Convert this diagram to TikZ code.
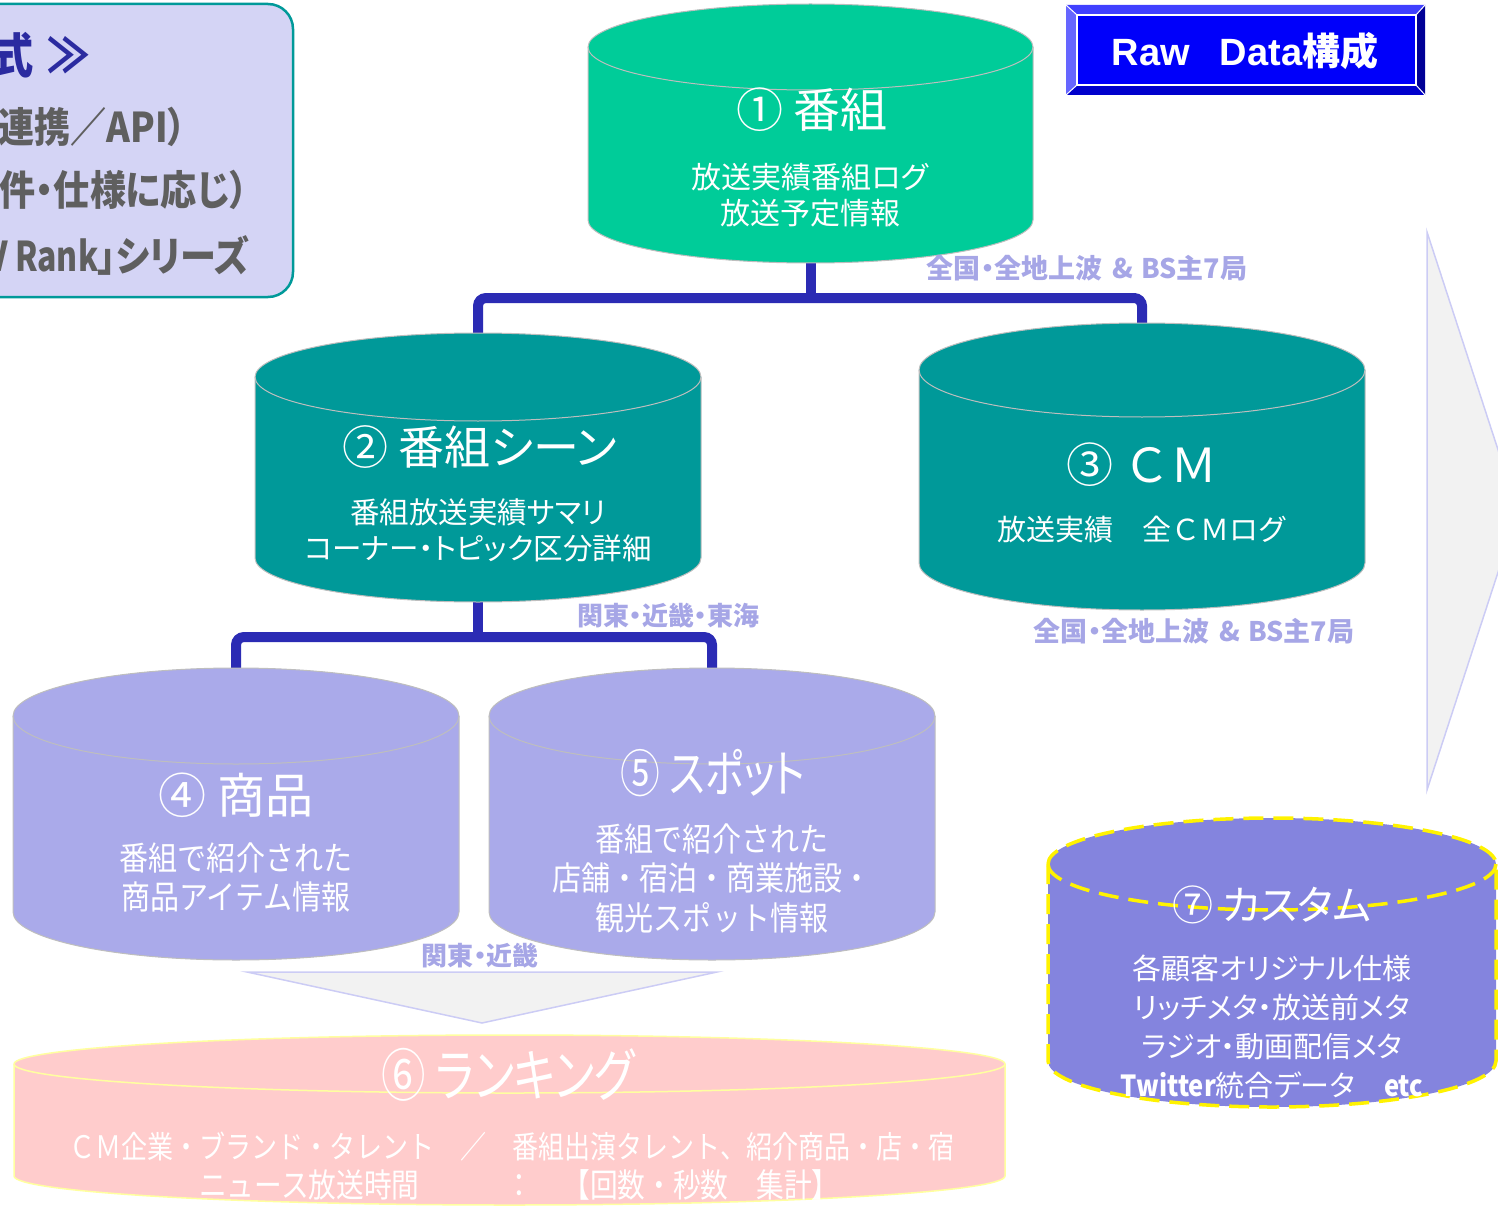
\documentclass[tikz,border=0pt]{standalone}
\usepackage{fontspec}
\setmainfont[RawFeature=+palt]{Noto Sans CJK JP}
\newfontfamily\jp[RawFeature=+palt]{Noto Sans CJK JP}
\newfontfamily\jpn{Noto Sans CJK JP}
\newfontfamily\jpc[FakeStretch=0.88,RawFeature=+palt]{Noto Sans CJK JP}
\newfontfamily\jpcn[FakeStretch=0.88]{Noto Sans CJK JP}
\newfontfamily\jpcm[FakeStretch=0.84]{Noto Sans CJK JP}
\newfontfamily\jpcc[FakeStretch=0.78,RawFeature=+palt]{Noto Sans CJK JP}
\newfontfamily\arialf{Liberation Sans}
\definecolor{cgreen}{RGB}{0,204,153}
\definecolor{tealf}{RGB}{0,153,153}
\definecolor{lavf}{RGB}{170,170,234}
\definecolor{pinkf}{RGB}{255,204,204}
\definecolor{pinkline}{RGB}{255,255,160}
\definecolor{custf}{RGB}{132,132,222}
\definecolor{connblue}{RGB}{43,43,180}
\definecolor{lblc}{RGB}{166,166,230}
\definecolor{boxfill}{RGB}{212,212,245}
\definecolor{boxline}{RGB}{0,153,153}
\definecolor{boxtitle}{RGB}{43,43,160}
\definecolor{boxgray}{RGB}{95,95,95}
\definecolor{arrowfill}{RGB}{242,242,242}
\definecolor{arrowline}{RGB}{204,204,245}
\definecolor{cylline}{RGB}{190,190,190}
\definecolor{bevtop}{RGB}{64,64,255}
\definecolor{bevleft}{RGB}{102,102,255}
\definecolor{bevright}{RGB}{0,0,150}
\definecolor{bevbot}{RGB}{0,0,204}
\definecolor{rawface}{RGB}{0,0,250}
% #1 style, #2 cx, #3 top ellipse centre y, #4 bottom ellipse centre y, #5 rx, #6 ry
\newcommand\dbcyl[6]{%
  \path[#1] ({#2-#5},#3) -- ({#2-#5},#4) arc[start angle=180,end angle=0,x radius=#5,y radius=#6] -- ({#2+#5},#3) arc[start angle=0,end angle=-180,x radius=#5,y radius=#6] -- cycle;
  \path[#1,fill=none] ({#2+#5},#3) arc[start angle=0,end angle=180,x radius=#5,y radius=#6];
}
\begin{document}
\begin{tikzpicture}[x=1pt,y=-1pt,
  cylbox/.style={draw=none,fill=none,inner sep=0pt,outer sep=0pt,rectangle},
  cylplain/.style={fill=#1,draw=cylline,line width=1pt},
  conn/.style={draw=connblue,line width=10pt,rounded corners=8pt},
  lbl/.style={text=lblc,inner sep=0pt,font=\jp\bfseries\fontsize{26}{30}\selectfont},
  ttl/.style={text=white,inner sep=0pt,align=center,font=\jp\fontsize{47}{50}\selectfont},
  sub/.style={text=white,inner sep=0pt,align=center},
  boxtxt/.style={text=boxgray,inner sep=0pt,anchor=east,font=\jpc\bfseries\fontsize{41}{44}\selectfont},
  arrowshape/.style={fill=arrowfill,draw=arrowline,line width=1.5pt}]
\useasboundingbox (0,0) rectangle (1498,1206);
\clip (0,0) rectangle (1498,1206);

% big arrows
\path[arrowshape] (1427,232) -- (1518,511) -- (1427,790) -- cycle;
\path[arrowshape] (247,972) -- (717,972) -- (482,1023) -- cycle;

% top-left box
\draw[fill=boxfill,draw=boxline,line width=2.5pt,rounded corners=25pt] (-40,4) rectangle (293,297);
\node[anchor=east,text=boxtitle,inner sep=0pt,font=\jpc\bfseries\fontsize{48}{52}\selectfont] (bt) at (90,55) {式\hspace{14pt}≫};
\node[boxtxt] (b1) at (186,127) {連携／API）};
\node[boxtxt] (b2) at (248,190) {件・仕様に応じ）};
\node[boxtxt] (b3) at (249,255) {{\jpcc\bfseries V\hspace{7pt}Rank}」シリーズ};

% Raw Data box
\fill[bevtop] (1066,5) -- (1425,5) -- (1416,15) -- (1077,15) -- cycle;
\fill[bevleft] (1066,5) -- (1077,15) -- (1077,85) -- (1066,95) -- cycle;
\fill[bevright] (1425,5) -- (1425,95) -- (1416,85) -- (1416,15) -- cycle;
\fill[bevbot] (1066,95) -- (1425,95) -- (1416,85) -- (1077,85) -- cycle;
\fill[rawface] (1077,15) rectangle (1416,85);
\draw[white,line width=1.5pt] (1077,15) rectangle (1416,85);
\draw[white,line width=1pt] (1066,5) -- (1077,15) (1425,5) -- (1416,15) (1066,95) -- (1077,85) (1425,95) -- (1416,85);
\node[text=white,inner sep=0pt,font=\arialf\bfseries\fontsize{38}{40}\selectfont] (raw) at (1245,51) {Raw\hspace{30pt}Data{\jp\bfseries 構成}};

% anchor boxes of the cylinders
\node[cylbox,minimum width=445pt,minimum height=259pt] (c1) at (810.5,133.5) {};
\node[cylbox,minimum width=446pt,minimum height=269pt] (c2) at (478,467.5) {};
\node[cylbox,minimum width=446pt,minimum height=287pt] (c3) at (1142,466.5) {};
\node[cylbox,minimum width=446pt,minimum height=292pt] (c4) at (236,814) {};
\node[cylbox,minimum width=446pt,minimum height=292pt] (c5) at (712,814) {};
\node[cylbox,minimum width=991pt,minimum height=170pt] (c6) at (509.5,1120) {};
\node[cylbox,minimum width=448pt,minimum height=289pt] (c7) at (1272,962.5) {};

% connectors
\coordinate (j1) at (810.5,298);
\coordinate (j2) at (478,637);
\draw[conn] (c1.south) -- (j1);
\draw[conn] (c2.north) |- (j1) -| (c3.north);
\draw[conn] (c2.south) -- (j2);
\draw[conn] (c4.north) |- (j2) -| (c5.north);

% cylinders
\dbcyl{cylplain=cgreen}{810.5}{47}{220}{222.5}{43}
\dbcyl{cylplain=tealf}{478}{377}{558}{223}{44}
\dbcyl{cylplain=tealf}{1142}{370}{563}{223}{47}
\dbcyl{cylplain=lavf}{236}{716}{912}{223}{48}
\dbcyl{cylplain=lavf}{712}{716}{912}{223}{48}
\dbcyl{fill=pinkf,draw=pinkline,line width=1.5pt}{509.5}{1064}{1176}{495.5}{29}
\dbcyl{fill=custf,draw=yellow,line width=3.5pt,dash pattern=on 20pt off 10pt}{1272}{864}{1061}{224}{46}

% cylinder texts
\node[ttl] (t1) at (812,110) {① 番組};
\node[sub,font=\jp\fontsize{30}{36}\selectfont] (s1) at (810,195) {放送実績番組ログ\\放送予定情報};
\node[ttl,font=\jp\fontsize{46}{50}\selectfont] (t2) at (480,447) {② 番組シーン};
\node[sub,font=\jp\fontsize{29.5}{36}\selectfont] (s2) at (478,530) {番組放送実績サマリ\\コーナー・トピック区分詳細};
\node[ttl,font=\jpn\fontsize{47}{50}\selectfont] (t3) at (1142,465) {③ ＣＭ};
\node[sub,font=\jpn\fontsize{29}{36}\selectfont] (s3) at (1142,530) {放送実績　全ＣＭログ};
\node[ttl,font=\jp\fontsize{48}{50}\selectfont] (t4) at (236,795) {④ 商品};
\node[sub,font=\jpcn\fontsize{33}{39}\selectfont] (s4) at (236,877) {番組で紹介された\\商品アイテム情報};
\node[ttl,font=\jpcc\fontsize{51}{54}\selectfont] (t5) at (713,773) {⑤ スポット};
\node[sub,font=\jpcn\fontsize{33}{39.5}\selectfont] (s5) at (712,878) {番組で紹介された\\店舗・宿泊・商業施設・\\観光スポット情報};
\node[ttl,font=\jpcc\fontsize{57}{60}\selectfont] (t6) at (508,1075) {⑥ ランキング};
\node[sub,font=\jpcm\fontsize{31}{36}\selectfont] (s6a) at (512,1147) {ＣＭ企業・ブランド・タレント　／　番組出演タレント、紹介商品・店・宿};
\node[sub,anchor=west,font=\jpcm\fontsize{33}{36}\selectfont] (s6b) at (199,1185) {ニュース放送時間\hspace{86pt}：\hspace{29pt}【回数・秒数　集計】};
\node[ttl,font=\jp\fontsize{41}{46}\selectfont] (t7) at (1272,905) {⑦ カスタム};
\node[sub,font=\jp\fontsize{29}{39}\selectfont] (s7) at (1272,1027) {各顧客オリジナル仕様\\リッチメタ・放送前メタ\\ラジオ・動画配信メタ\\{\jpc\bfseries Twitter}統合データ　{\jpc\bfseries etc}};

% region labels
\node[lbl,font=\jp\bfseries\fontsize{27}{30}\selectfont] (l1) at (1087,268) {全国・全地上波\hspace{10pt}\&\hspace{8pt}BS主7局};
\node[lbl,font=\jp\bfseries\fontsize{27}{30}\selectfont] (l2) at (1194,631) {全国・全地上波\hspace{10pt}\&\hspace{8pt}BS主7局};
\node[lbl] (l3) at (668,616) {関東・近畿・東海};
\node[lbl] (l4) at (480,956) {関東・近畿};
\end{tikzpicture}
\end{document}
